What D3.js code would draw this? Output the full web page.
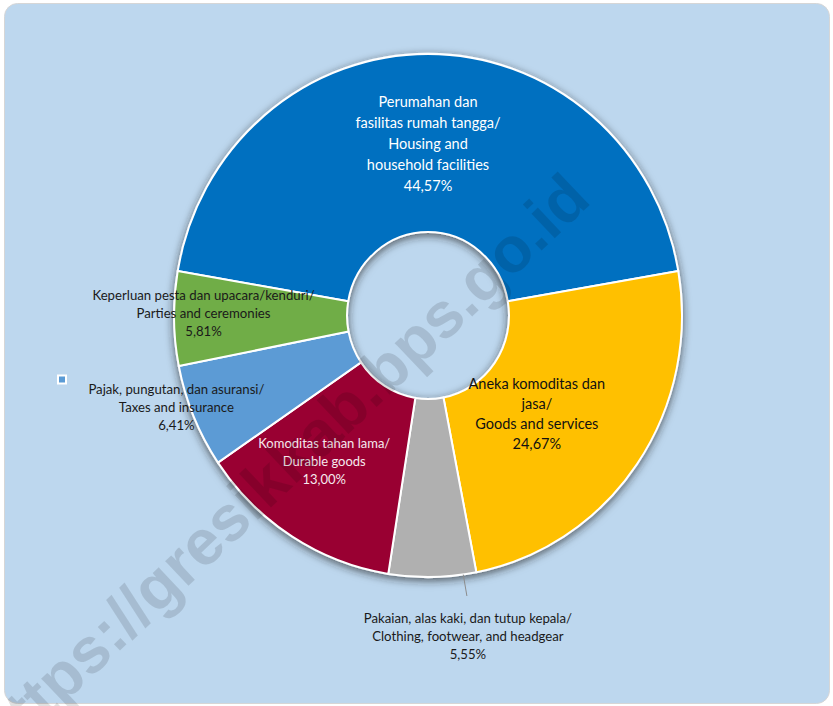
<!DOCTYPE html>
<html>
<head>
<meta charset="utf-8">
<script src="https://cdn.jsdelivr.net/npm/d3@7"></script>
<style>
  html, body { margin: 0; padding: 0; background: #ffffff; }
  svg { display: block; }
</style>
</head>
<body>
<svg id="chart"></svg>
<script>
// Data
const categories = [
  ["Perumahan dan", "fasilitas rumah tangga/", "Housing and", "household facilities"],
  ["Aneka komoditas dan", "jasa/", "Goods and services"],
  ["Pakaian, alas kaki, dan tutup kepala/", "Clothing, footwear, and headgear"],
  ["Komoditas tahan lama/", "Durable goods"],
  ["Pajak, pungutan, dan asuransi/", "Taxes and insurance"],
  ["Keperluan pesta dan upacara/kenduri/", "Parties and ceremonies"]
];
const shares = [44.57, 24.67, 5.55, 13.00, 6.41, 5.81];
const shareLabels = ["44,57%", "24,67%", "5,55%", "13,00%", "6,41%", "5,81%"];

// Styling / layout
const sliceColors = ["#0070C0", "#FFC000", "#B0B0B0", "#990033", "#5B9BD5", "#70AD47"];
const labelColors = ["#ffffff", "#111111", "#1a1a1a", "#f6e9ee", "#1a1a1a", "#1a1a1a"];
const labelSizes = [14.5, 14.5, 13.2, 13, 13.2, 13.2];
const lineGaps = [21, 20, 18, 18, 18, 18];
const labelNudge = [[0, 1], [-29, 0], [37, 148], [-14, 0], [-97, 25], [-57, -4]];

const width = 833, height = 706;
const cx = 428, cy = 315.5;
const innerR = 81, outerR = 254, yStretch = 1.03;

const svg = d3.select("#chart").attr("width", width).attr("height", height);

const defs = svg.append("defs");
const shadow = defs.append("filter").attr("id", "ringShadow")
  .attr("x", "-20%").attr("y", "-20%").attr("width", "140%").attr("height", "140%");
shadow.append("feDropShadow")
  .attr("dx", 0).attr("dy", 2.5).attr("stdDeviation", 4)
  .attr("flood-color", "#222222").attr("flood-opacity", 0.7);

// Panel background
svg.append("rect")
  .attr("x", 4.5).attr("y", 3.5).attr("width", 825).attr("height", 700)
  .attr("rx", 13)
  .attr("fill", "#BDD7EE")
  .attr("stroke", "#d6d6d6").attr("stroke-width", 1);

// Pie layout: first slice centred on the top
const total = d3.sum(shares);
const firstSpan = shares[0] / total * 2 * Math.PI;
const pie = d3.pie().sort(null).value(d => d)
  .startAngle(-firstSpan / 2).endAngle(2 * Math.PI - firstSpan / 2);
const arcs = pie(shares);

const arc = d3.arc().innerRadius(innerR).outerRadius(outerR);

const ring = svg.append("g")
  .attr("transform", `translate(${cx},${cy}) scale(1,${yStretch})`);

ring.append("g")
  .attr("filter", "url(#ringShadow)")
  .selectAll("path")
  .data(arcs)
  .join("path")
  .attr("d", arc)
  .attr("fill", (d, i) => sliceColors[i])
  .attr("stroke", "#ffffff")
  .attr("stroke-width", 2)
  .attr("stroke-linejoin", "round");

// Leader line for the clothing slice
const g2 = arcs[2];
const leadA = g2.startAngle + 0.15 * (g2.endAngle - g2.startAngle);
const c2 = arc.centroid(g2);
svg.append("line")
  .attr("x1", cx + outerR * Math.sin(leadA))
  .attr("y1", cy - outerR * yStretch * Math.cos(leadA))
  .attr("x2", cx + c2[0] + labelNudge[2][0] - 1)
  .attr("y2", cy + c2[1] * yStretch + labelNudge[2][1] - 40)
  .attr("stroke", "#8c8c8c").attr("stroke-width", 1);

// Data labels
const labels = svg.append("g")
  .attr("font-family", "Lato, 'Open Sans', sans-serif")
  .attr("text-anchor", "middle");

arcs.forEach((d, i) => {
  const c = arc.centroid(d);
  const x = cx + c[0] + labelNudge[i][0];
  const y = cy + c[1] * yStretch + labelNudge[i][1];
  const lines = categories[i].concat([shareLabels[i]]);
  const top = y - (lines.length - 1) * lineGaps[i] / 2;
  const t = labels.append("text")
    .attr("fill", labelColors[i])
    .attr("font-size", labelSizes[i]);
  lines.forEach((ln, k) => {
    t.append("tspan")
      .attr("x", x)
      .attr("y", top + k * lineGaps[i])
      .attr("dy", "0.35em")
      .text(ln);
  });
});

// Stray legend marker
svg.append("rect")
  .attr("x", 58).attr("y", 375.5).attr("width", 8).attr("height", 8)
  .attr("fill", "#5B9BD5").attr("stroke", "#ffffff").attr("stroke-width", 2);

// Watermark (runs off the lower-left edge, as in the reference)
svg.append("text")
  .attr("transform", "translate(282,466) rotate(-43.5)")
  .attr("text-anchor", "middle")
  .attr("dy", "0.35em")
  .attr("font-family", "'Liberation Sans', Arial, sans-serif")
  .attr("font-weight", "bold")
  .attr("font-size", 64)
  .attr("fill", "#000000")
  .attr("fill-opacity", 0.12)
  .text("https://gresikkab.bps.go.id");
</script>
</body>
</html>
